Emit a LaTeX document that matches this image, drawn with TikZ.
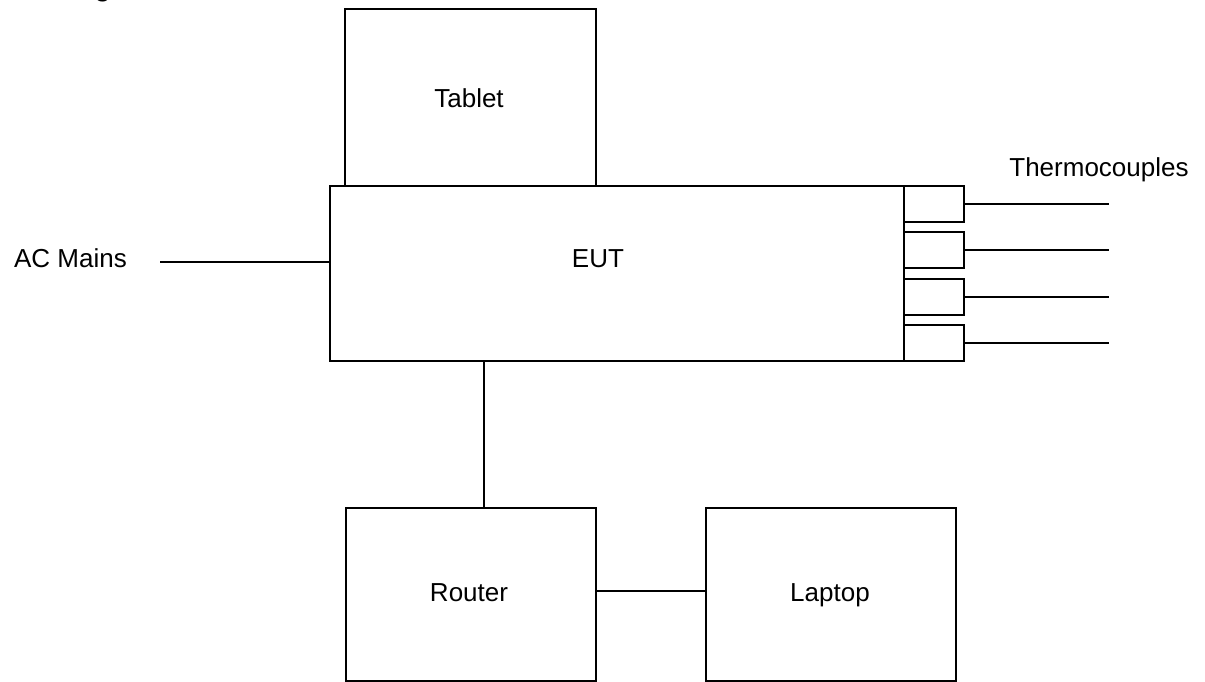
\documentclass[tikz,border=0pt]{standalone}
\usepackage{fontspec}
\setmainfont{Liberation Sans}
\begin{document}
\begin{tikzpicture}[x=0.02cm,y=-0.02cm,
  box/.style={draw, line width=1.1pt, inner sep=0pt, outer sep=0pt},
  wire/.style={line width=1.1pt},
  lbl/.style={font=\fontsize{14.8}{17}\selectfont, inner sep=0pt, anchor=base},
  title/.style={font=\fontsize{14.8}{17}\selectfont\bfseries, inner sep=0pt, anchor=base west}]
\useasboundingbox (0,0) rectangle (1205,681);
% title (cut off at the top of the page)
\node[title] (ttl) at (-24,-4) {Block Diagram};
% boxes
\node[box, minimum width=5.02cm, minimum height=3.54cm] (tablet) at (470.5,97.5) {};
\node[box, minimum width=11.48cm, minimum height=3.5cm] (eut) at (617,273.5) {};
\node[box, minimum width=1.2cm, minimum height=0.72cm] (th1) at (934,204) {};
\node[box, minimum width=1.2cm, minimum height=0.72cm] (th2) at (934,250) {};
\node[box, minimum width=1.2cm, minimum height=0.72cm] (th3) at (934,297) {};
\node[box, minimum width=1.2cm, minimum height=0.72cm] (th4) at (934,343) {};
\node[box, minimum width=5.0cm, minimum height=3.46cm] (router) at (471,594.5) {};
\node[box, minimum width=5.0cm, minimum height=3.46cm] (laptop) at (831,594.5) {};
% labels
\node[lbl] (tabletlbl) at (469,107) {Tablet};
\node[lbl] (eutlbl) at (598,267) {EUT};
\node[lbl] (aclbl) at (70.5,267) {AC Mains};
\node[lbl] (thlbl) at (1099,176) {Thermocouples};
\node[lbl] (routerlbl) at (469,601) {Router};
\node[lbl] (laptoplbl) at (830,601) {Laptop};
% connectors
\coordinate (ac) at (160,262);
\draw[wire] (ac) -- (ac -| eut.west);
\coordinate (tend) at (1109,0);
\draw[wire] (th1.east) -- (th1.east -| tend);
\draw[wire] (th2.east) -- (th2.east -| tend);
\draw[wire] (th3.east) -- (th3.east -| tend);
\draw[wire] (th4.east) -- (th4.east -| tend);
\coordinate (vx) at (484,0);
\draw[wire] (eut.south -| vx) -- (router.north -| vx);
\coordinate (hy) at (0,591);
\draw[wire] (router.east |- hy) -- (laptop.west |- hy);
\end{tikzpicture}
\end{document}
